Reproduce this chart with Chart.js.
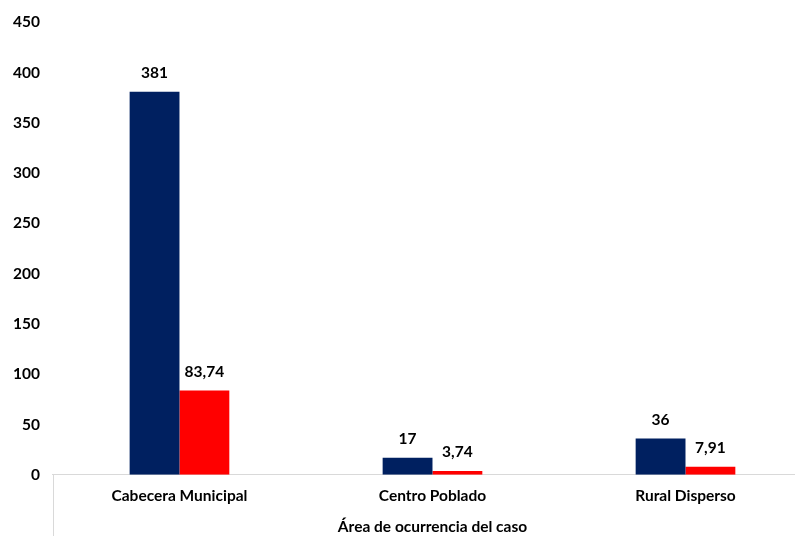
<!DOCTYPE html>
<html>
<head>
<meta charset="utf-8">
<script src="https://cdn.jsdelivr.net/npm/chart.js@4"></script>
<style>
html,body{margin:0;padding:0;background:#fff;overflow:hidden;}
#wrap{width:812px;height:536px;}
</style>
</head>
<body>
<div id="wrap"><canvas id="c" width="812" height="536"></canvas></div>
<script>
const categories = ["Cabecera Municipal", "Centro Poblado", "Rural Disperso"];
const casos = [381, 17, 36];
const tasa = [83.74, 3.74, 7.91];
const yTicks = [0, 50, 100, 150, 200, 250, 300, 350, 400, 450];
const xTitle = "Área de ocurrencia del caso";

const FONT = "Lato, 'Open Sans', sans-serif";
const FS = 15.5;

const labelPlugin = {
  id: 'labels',
  afterDatasetsDraw(chart) {
    const ctx = chart.ctx;
    ctx.save();
    ctx.font = "bold " + FS + "px " + FONT;
    ctx.fillStyle = "#000";
    ctx.textAlign = "center";
    ctx.textBaseline = "alphabetic";
    chart.data.datasets.forEach((ds, i) => {
      chart.getDatasetMeta(i).data.forEach((bar, j) => {
        const v = ds.data[j];
        ctx.fillText(String(v).replace('.', ','), bar.x, bar.y - 14);
      });
    });
    ctx.restore();
  }
};

const dividerPlugin = {
  id: 'divider',
  afterDraw(chart) {
    const ctx = chart.ctx;
    const x = chart.scales.x;
    ctx.save();
    ctx.strokeStyle = "#d9d9d9";
    ctx.lineWidth = 1;
    ctx.beginPath();
    ctx.moveTo(Math.round(x.left) + 0.5, x.top);
    ctx.lineTo(Math.round(x.left) + 0.5, chart.height);
    ctx.moveTo(Math.round(x.right) - 0.5, x.top);
    ctx.lineTo(Math.round(x.right) - 0.5, chart.height);
    ctx.stroke();
    ctx.restore();
  }
};

new Chart(document.getElementById('c'), {
  type: 'bar',
  data: {
    labels: categories,
    datasets: [
      { label: "Casos", data: casos, backgroundColor: "#002060", barPercentage: 1, categoryPercentage: 0.394 },
      { label: "Tasa", data: tasa, backgroundColor: "#FF0000", barPercentage: 1, categoryPercentage: 0.394 }
    ]
  },
  options: {
    responsive: false,
    animation: false,
    layout: { padding: { top: 13, left: 0, right: 0, bottom: 0 } },
    plugins: { legend: { display: false }, tooltip: { enabled: false } },
    scales: {
      y: {
        min: 0, max: 450,
        afterBuildTicks(scale) { scale.ticks = yTicks.map(v => ({ value: v })); },
        grid: { display: false, drawTicks: false },
        border: { display: false },
        ticks: { color: "#000", font: { family: FONT, size: FS, weight: "bold" }, padding: 13 }
      },
      x: {
        grid: { display: false, drawTicks: false },
        border: { display: true, color: "#d9d9d9", width: 1 },
        ticks: { color: "#000", font: { family: FONT, size: FS, weight: "bold" }, padding: 12 },
        title: { display: true, text: xTitle, color: "#000", font: { family: FONT, size: FS, weight: "bold" }, padding: { top: 0, bottom: 0 } }
      }
    }
  },
  plugins: [labelPlugin, dividerPlugin]
});
</script>
</body>
</html>
